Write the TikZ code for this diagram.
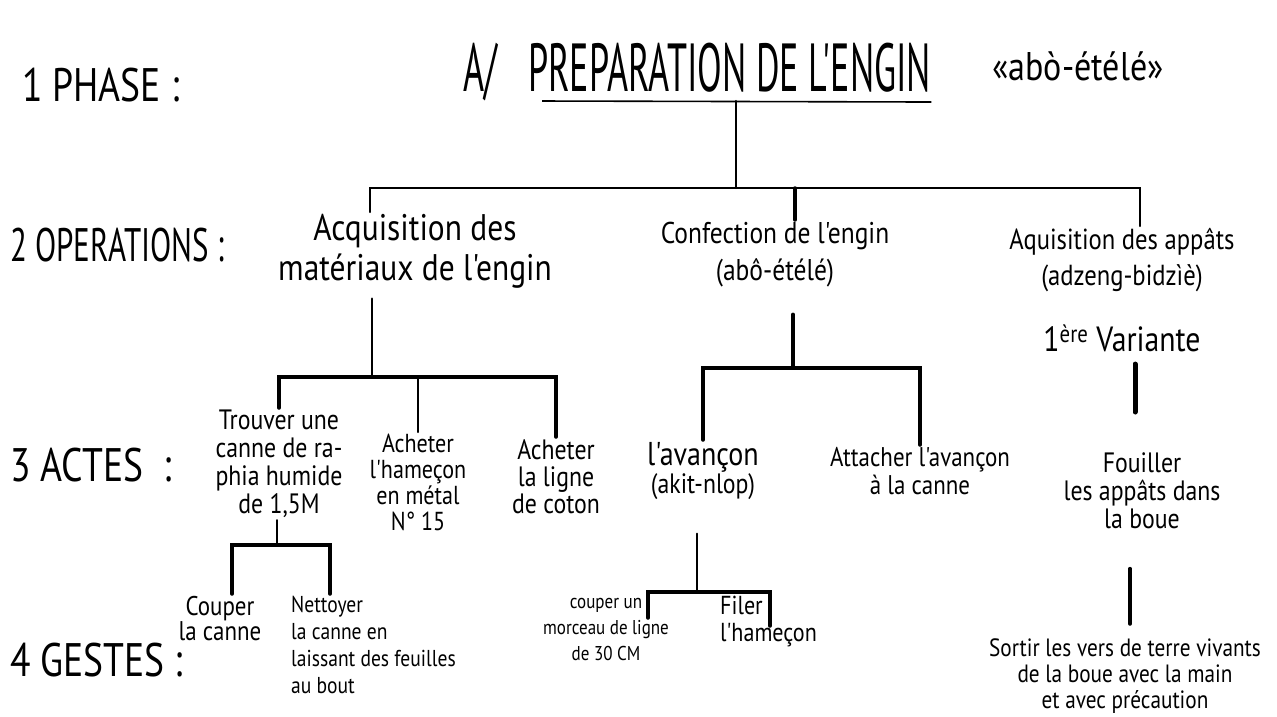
\documentclass[tikz,border=0pt]{standalone}
\usepackage{fontspec}
\setmainfont{PT Sans}
\newfontfamily\hand{PT Sans}[FakeStretch=0.85]
\newfontfamily\labf{PT Sans}[FakeStretch=0.8]
\newfontfamily\labn{PT Sans}[FakeStretch=0.66]
\newfontfamily\titf{PT Sans}[FakeStretch=0.53]
\begin{document}
\begin{tikzpicture}[x=1pt,y=-1pt,
  tl/.style={line width=2.2pt, line cap=round},
  tk/.style={line width=3.5pt, line cap=round},
  lvl/.style={anchor=west, inner sep=0pt, font=\labf\fontsize{47}{47}\selectfont},
  op/.style={anchor=north, align=center, inner sep=2pt, font=\hand\fontsize{30}{37}\selectfont},
  act/.style={anchor=north, align=center, inner sep=2pt, font=\hand\fontsize{28}{28}\selectfont},
  ges/.style={anchor=north, align=center, inner sep=2pt, font=\hand\fontsize{22}{26}\selectfont}]
\useasboundingbox[fill=white] (0,0) rectangle (1277,717);

% level labels
\node[lvl] (l1) at (22,85) {1 PHASE :};
\node[lvl, font=\labn\fontsize{47}{47}\selectfont] (l2) at (10,245) {2 OPERATIONS :};
\node[lvl] (l3) at (10,465) {3 ACTES \ :};
\node[lvl] (l4) at (10,660) {4 GESTES :};

% title
\node[anchor=base west, inner sep=0pt, font=\titf\fontsize{68}{68}\selectfont] (ta) at (463,92) {A/};
\node[anchor=base west, inner sep=0pt, font=\titf\fontsize{68}{68}\selectfont] (tp) at (528,92) {PREPARATION DE L'ENGIN};
\draw[line width=1.6pt] ([xshift=14pt,yshift=-8pt]tp.south west) coordinate (ulL) -- ([yshift=-9pt]tp.south east) coordinate (ulR);
\node[inner sep=0pt, font=\hand\fontsize{40}{40}\selectfont] (tq) at (1078,66) {«abò-étélé»};

% operations
\node[op, font=\hand\fontsize{37}{40}\selectfont] (o1) at (415,212) {Acquisition des\\matériaux de l'engin};
\node[op] (o2) at (775,220) {Confection de l'engin\\(abô-étélé)};
\node[op, font=\hand\fontsize{29}{36}\selectfont] (o3) at (1122,226) {Aquisition des appâts\\(adzeng-bidzìè)\\[30pt]{\fontsize{35}{35}\selectfont 1\textsuperscript{ère} Variante}};

% actes
\node[act] (a1) at (279,408) {Trouver une\\canne de ra-\\phia humide\\de 1,5M};
\node[act, font=\hand\fontsize{26}{26}\selectfont] (a2) at (418,432) {Acheter\\l'hameçon\\en métal\\N° 15};
\node[act, font=\hand\fontsize{28}{27}\selectfont] (a3) at (556,437) {Acheter\\la ligne\\de coton};
\node[act] (a4) at (703,440) {{\fontsize{33}{33}\selectfont l'avançon}\\(akit-nlop)};
\node[act, font=\hand\fontsize{27}{28}\selectfont] (a5) at (920,445) {Attacher l'avançon\\à la canne};
\node[act] (a6) at (1142,450) {Fouiller\\les appâts dans\\la boue};

% gestes
\node[ges, font=\hand\fontsize{27}{25}\selectfont] (g1) at (220,594) {Couper\\la canne};
\node[ges, anchor=north west, align=left, font=\hand\fontsize{23}{27}\selectfont] (g2) at (289,594) {Nettoyer\\la canne en\\laissant des feuilles\\au bout};
\node[ges, font=\hand\fontsize{20}{26}\selectfont] (g3) at (606,596) {couper un\\morceau de ligne\\de 30 CM};
\node[ges, anchor=north west, align=left, font=\hand\fontsize{26}{27}\selectfont] (g4) at (718,594) {Filer\\l'hameçon};
\node[ges, font=\hand\fontsize{25}{26}\selectfont] (g5) at (1125,636) {Sortir les vers de terre vivants\\de la boue avec la main\\et avec précaution};

% connectors: phase -> operations
\coordinate (b0) at (736,188);
\coordinate (b0a) at (370,188);
\coordinate (b0b) at (795,188);
\coordinate (b0c) at (1140,188);
\draw[tl] (b0 |- ulL) -- (b0);
\draw[tl] (b0a |- o1.north) |- (b0c) -- (b0c |- o3.north);
\draw[tk] (b0b) -- (b0b |- o2.north);

% operations -> actes
\coordinate (j1) at (372,377);
\draw[tl, shorten <=8pt] (j1 |- o1.south) -- (j1);
\draw[tk] (a1.north) |- (j1) -| (a3.north);
\draw[tl] (a2.north |- j1) -- (a2.north);

\coordinate (j2) at (793,368);
\draw[tk, shorten <=25pt] (j2 |- o2.south) -- (j2);
\draw[tk] (a4.north) |- (j2) -| (a5.north);

\coordinate (j5) at (1135,400);
\draw[tk, line width=5pt, shorten <=10pt, shorten >=38pt] (j5 |- o3.south) -- (j5 |- a6.north);

% actes -> gestes
\coordinate (j3) at (277,545);
\coordinate (j3L) at (232,545);
\coordinate (j3R) at (330,545);
\draw[tl] (j3 |- a1.south) -- (j3);
\draw[tk] (g1.north -| j3L) |- (j3R) -- (j3R |- g2.north);

\coordinate (j4) at (697,592);
\coordinate (j4L) at (648,592);
\coordinate (j4R) at (770,592);
\coordinate (j4Lb) at (648,618);
\coordinate (j4Rb) at (770,626);
\draw[tl, shorten <=32pt] (j4 |- a4.south) -- (j4);
\draw[tk] (j4Lb) |- (j4R) -- (j4Rb);

\coordinate (j6) at (1130,600);
\draw[tk, shorten <=38pt, shorten >=12pt] (j6 |- a6.south) -- (j6 |- g5.north);
\end{tikzpicture}
\end{document}
